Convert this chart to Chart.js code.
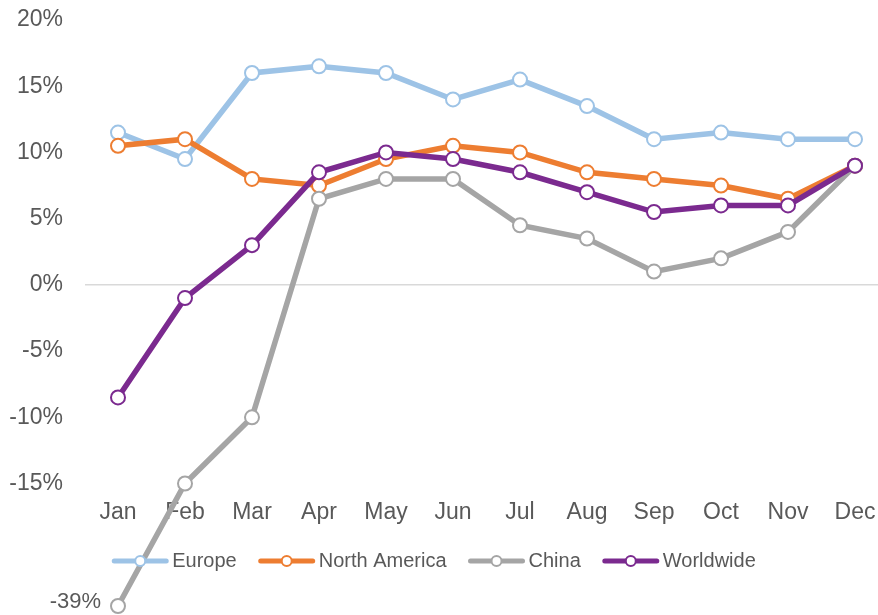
<!DOCTYPE html>
<html>
<head>
<meta charset="utf-8">
<script src="https://cdn.jsdelivr.net/npm/chart.js@4.4.1/dist/chart.umd.min.js"></script>
<style>
  html, body { margin: 0; padding: 0; background: #fff; }
  #wrap { width: 878px; height: 615px; }
</style>
</head>
<body>
<div id="wrap"><canvas id="grafik"></canvas></div>
<script>
var aylar = ["Jan", "Feb", "Mar", "Apr", "May", "Jun", "Jul", "Aug", "Sep", "Oct", "Nov", "Dec"];
var europe = [11.5, 9.5, 16, 16.5, 16, 14, 15.5, 13.5, 11, 11.5, 11, 11];
var northAmerica = [10.5, 11, 8, 7.5, 9.5, 10.5, 10, 8.5, 8, 7.5, 6.5, 9];
var china = [-39, -15, -10, 6.5, 8, 8, 4.5, 3.5, 1, 2, 4, 9];
var worldwide = [-8.5, -1, 3, 8.5, 10, 9.5, 8.5, 7, 5.5, 6, 6, 9];
var yTicks = [-15, -10, -5, 0, 5, 10, 15, 20];

/* axis is broken below -15%: -39% is drawn at the bottom of the plot */
var kirilma = -15, enDusuk = -39, gosterilenDusuk = -24.25;
function eksenDegeri(v) {
  if (v >= kirilma) return v;
  return kirilma + (v - kirilma) * (gosterilenDusuk - kirilma) / (enDusuk - kirilma);
}

var yaziRengi = "#595959";
var yaziFont = "Liberation Sans, Arial, sans-serif";

function seri(ad, veri, renk, sira) {
  return {
    label: ad,
    data: veri.map(eksenDegeri),
    gercek: veri,
    borderColor: renk,
    backgroundColor: "#ffffff",
    borderWidth: 5.5,
    pointRadius: 7,
    pointHoverRadius: 7,
    pointBorderWidth: 2,
    pointBorderColor: renk,
    pointBackgroundColor: "#ffffff",
    tension: 0,
    clip: false,
    order: sira
  };
}

/* zero line, wider than the plot like in the original */
var sifirCizgisi = {
  id: "sifirCizgisi",
  beforeDatasetsDraw: function (chart) {
    var ctx = chart.ctx;
    var y = chart.scales.y.getPixelForValue(0);
    ctx.save();
    ctx.strokeStyle = "#d9d9d9";
    ctx.lineWidth = 1.5;
    ctx.beginPath();
    ctx.moveTo(chart.chartArea.left - 33, y);
    ctx.lineTo(chart.width, y);
    ctx.stroke();
    ctx.restore();
  }
};

/* -39% label and the legend inside the plot */
var etiketVeLejant = {
  id: "etiketVeLejant",
  afterDatasetsDraw: function (chart) {
    var ctx = chart.ctx;
    ctx.save();
    ctx.fillStyle = yaziRengi;
    ctx.textBaseline = "middle";

    var meta = chart.getDatasetMeta(2);
    var nokta = meta.data[0];
    ctx.textAlign = "right";
    ctx.font = "22px " + yaziFont;
    ctx.fillText(china[0] + "%", nokta.x - 17, nokta.y - 4);

    ctx.font = "20px " + yaziFont;
    var ds = chart.data.datasets;
    var cizgiUz = 56, bosluk = 22, yaziAra = 4;
    var toplam = 0;
    for (var i = 0; i < ds.length; i++) {
      toplam += cizgiUz + yaziAra + ctx.measureText(ds[i].label).width;
      if (i < ds.length - 1) toplam += bosluk;
    }
    var x = 434 - toplam / 2;
    var y = 561;
    ctx.textAlign = "left";
    for (var i = 0; i < ds.length; i++) {
      ctx.strokeStyle = ds[i].borderColor;
      ctx.lineWidth = 5;
      ctx.lineCap = "round";
      ctx.beginPath();
      ctx.moveTo(x + 2, y);
      ctx.lineTo(x + cizgiUz - 2, y);
      ctx.stroke();
      ctx.beginPath();
      ctx.arc(x + cizgiUz / 2, y, 5, 0, Math.PI * 2);
      ctx.fillStyle = "#ffffff";
      ctx.fill();
      ctx.lineWidth = 2;
      ctx.stroke();
      ctx.fillStyle = yaziRengi;
      ctx.fillText(ds[i].label, x + cizgiUz + yaziAra, y);
      x += cizgiUz + yaziAra + ctx.measureText(ds[i].label).width + bosluk;
    }
    ctx.restore();
  }
};

var ctx = document.getElementById("grafik");
var grafik = new Chart(ctx, {
  type: "line",
  data: {
    labels: aylar,
    datasets: [
      seri("Europe", europe, "#9dc3e6", 3),
      seri("North America", northAmerica, "#ed7d31", 2),
      seri("China", china, "#a5a5a5", 1),
      seri("Worldwide", worldwide, "#7b2a8f", 0)
    ]
  },
  options: {
    responsive: true,
    maintainAspectRatio: false,
    animation: false,
    layout: { padding: { top: 20, right: 23, bottom: 8, left: 0 } },
    plugins: {
      legend: { display: false },
      tooltip: {
        callbacks: {
          label: function (c) {
            return c.dataset.label + ": " + c.dataset.gercek[c.dataIndex] + "%";
          }
        }
      }
    },
    scales: {
      x: {
        position: { y: -15 },
        offset: false,
        afterFit: function (scale) {
          scale.height = 0;
          scale.paddingLeft = 0;
          scale.paddingRight = 0;
        },
        grid: { display: false, drawTicks: false },
        border: { display: false },
        ticks: {
          color: yaziRengi,
          font: { family: yaziFont, size: 23 },
          padding: 15,
          maxRotation: 0,
          autoSkip: false
        }
      },
      y: {
        min: gosterilenDusuk,
        max: 20,
        afterFit: function (scale) {
          scale.width = 118;
          scale.paddingTop = 0;
          scale.paddingBottom = 0;
        },
        afterBuildTicks: function (scale) {
          scale.ticks = yTicks.map(function (v) { return { value: v }; });
        },
        grid: { display: false, drawTicks: false },
        border: { display: false },
        ticks: {
          color: yaziRengi,
          font: { family: yaziFont, size: 23 },
          padding: 55,
          callback: function (v) { return v + "%"; }
        }
      }
    }
  },
  plugins: [sifirCizgisi, etiketVeLejant]
});
</script>
</body>
</html>
